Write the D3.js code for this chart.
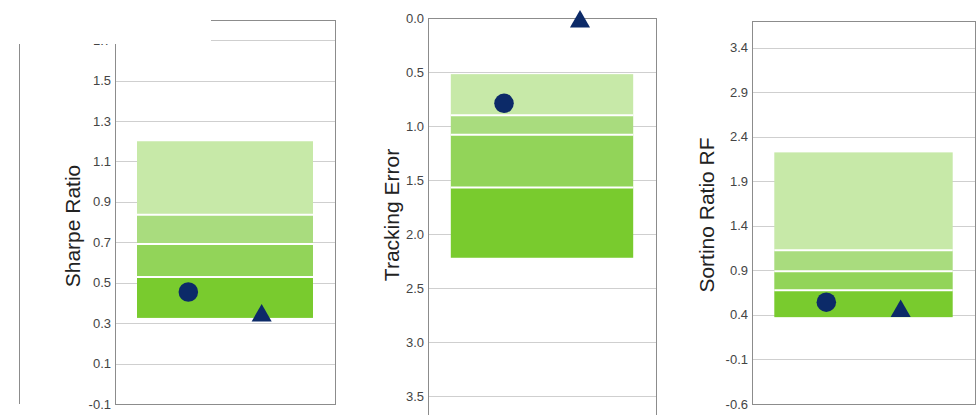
<!DOCTYPE html>
<html>
<meta charset="utf-8">
<style>
body { margin: 0; background: #fff; font-family: 'Liberation Sans', Arial, sans-serif; }
.grid line { stroke: #cfcfcf; shape-rendering: crispEdges; }
.frame { fill: none; stroke: #8c8c8c; shape-rendering: crispEdges; }
.tick-label { font-size: 13px; fill: #444; }
.title { font-size: 21px; fill: #222; }
</style>
<body>
<script src="https://cdn.jsdelivr.net/npm/d3@7"></script>
<script>
// data
var metrics = ["Sharpe Ratio", "Tracking Error", "Sortino Ratio RF"];
var domains = [[-0.1, 1.8], [0, 4.0], [-0.6, 3.7]];
var inverted = [false, true, false];
var ticks = [
  [-0.1, 0.1, 0.3, 0.5, 0.7, 0.9, 1.1, 1.3, 1.5, 1.7],
  [0.0, 0.5, 1.0, 1.5, 2.0, 2.5, 3.0, 3.5],
  [-0.6, -0.1, 0.4, 0.9, 1.4, 1.9, 2.4, 2.9, 3.4]
];
// quartile band edges, best to worst
var bandEdges = [
  [1.2, 0.836, 0.692, 0.529, 0.326],
  [0.52, 0.90, 1.08, 1.57, 2.22],
  [2.225, 1.127, 0.89, 0.678, 0.375]
];
var fundValues = [0.454, 0.79, 0.543];
var benchValues = [0.337, 0.034, 0.443];
var markers = ["Fund", "Benchmark"];

// styling / layout
var bandColors = ["#c7e9a8", "#a9dc7e", "#92d459", "#79cb2e"];
var navy = "#0c2a68";
var w = 980, h = 415;
var panels = [
  {x0: 115, x1: 335, y0: 20, y1: 404, labelX: 73, labelY: 226},
  {x0: 428, x1: 656, y0: 18, y1: 450, labelX: 392, labelY: 215},
  {x0: 752, x1: 975, y0: 21, y1: 404, labelX: 707, labelY: 215}
];

var svg = d3.select("body").append("svg")
    .attr("width", w)
    .attr("height", h);

var fmt = function(d) { return d.toFixed(1); };

panels.forEach(function(p, i) {
  var y = d3.scaleLinear()
      .domain(domains[i])
      .range(inverted[i] ? [p.y0, p.y1] : [p.y1, p.y0]);
  var x = d3.scalePoint()
      .domain(markers)
      .range([p.x0, p.x1])
      .padding(1);
  var g = svg.append("g");

  // gridlines
  g.append("g").attr("class", "grid")
    .selectAll("line")
    .data(ticks[i])
    .enter().append("line")
      .attr("x1", p.x0)
      .attr("x2", p.x1)
      .attr("y1", function(d) { return Math.round(y(d)) + 0.5; })
      .attr("y2", function(d) { return Math.round(y(d)) + 0.5; });

  // y axis labels
  g.selectAll(".tick-label")
    .data(ticks[i])
    .enter().append("text")
      .attr("class", "tick-label")
      .attr("x", p.x0 - 4)
      .attr("y", function(d) { return y(d); })
      .attr("dy", "0.35em")
      .style("text-anchor", "end")
      .text(fmt);

  // quartile bands
  var inset = (p.x1 - p.x0) * 0.1;
  var edges = bandEdges[i];
  var bands = d3.range(edges.length - 1).map(function(k) {
    return {a: edges[k], b: edges[k + 1], k: k};
  });
  g.selectAll(".band")
    .data(bands)
    .enter().append("rect")
      .attr("class", "band")
      .attr("x", p.x0 + inset)
      .attr("width", p.x1 - p.x0 - 2 * inset)
      .attr("y", function(d) { return Math.min(y(d.a), y(d.b)); })
      .attr("height", function(d) { return Math.abs(y(d.a) - y(d.b)); })
      .style("fill", function(d) { return bandColors[d.k]; });

  // white separators
  g.selectAll(".sep")
    .data(edges.slice(1, -1))
    .enter().append("line")
      .attr("x1", p.x0 + inset)
      .attr("x2", p.x1 - inset)
      .attr("y1", function(d) { return y(d); })
      .attr("y2", function(d) { return y(d); })
      .style("stroke", "#fff")
      .style("stroke-width", 2);

  // frame
  g.append("rect")
    .attr("class", "frame")
    .attr("x", p.x0 + 0.5)
    .attr("y", p.y0 + 0.5)
    .attr("width", p.x1 - p.x0)
    .attr("height", p.y1 - p.y0);

  // fund (circle) and benchmark (triangle)
  g.append("path")
    .attr("d", d3.symbol().type(d3.symbolCircle).size(300)())
    .attr("transform", "translate(" + x("Fund") + "," + y(fundValues[i]) + ")")
    .style("fill", navy);
  g.append("path")
    .attr("d", d3.symbol().type(d3.symbolTriangle).size(175)())
    .attr("transform", "translate(" + x("Benchmark") + "," + y(benchValues[i]) + ")")
    .style("fill", navy);

  // axis title
  g.append("text")
    .attr("class", "title")
    .attr("transform", "translate(" + p.labelX + "," + p.labelY + ") rotate(-90)")
    .attr("dy", "0.35em")
    .style("text-anchor", "middle")
    .text(metrics[i]);
});

// white patch over the top-left corner and the neighbouring frame edge
svg.append("rect")
  .attr("x", 0).attr("y", 0)
  .attr("width", 211).attr("height", 44)
  .style("fill", "#fff");
svg.append("line")
  .attr("x1", 19.5).attr("x2", 19.5)
  .attr("y1", 44).attr("y2", 404)
  .style("stroke", "#8c8c8c");
</script>
</body>
</html>
